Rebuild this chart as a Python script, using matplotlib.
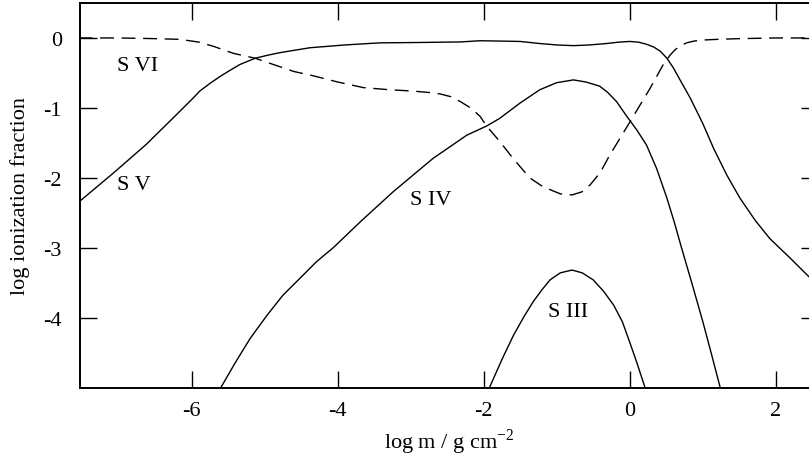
import matplotlib
matplotlib.use("Agg")
import matplotlib.pyplot as plt

# ionization fractions of sulfur (log m, log fraction)
s6_x = [-7.55, -7.0, -6.5, -6.16, -5.9, -5.70, -5.43, -5.13, -4.88, -4.60, -4.34, -4.0, -3.65,
        -3.3, -2.97, -2.75, -2.60, -2.45, -2.32, -2.18, -2.05, -1.96, -1.78, -1.60, -1.37,
        -1.2, -1.09, -0.95, -0.79, -0.65, -0.54, -0.40, -0.27, -0.1, 0.05, 0.28, 0.46, 0.55,
        0.62, 0.70, 0.78, 0.88, 1.0, 1.2, 1.5, 2.0, 2.7]
s6_y = [0.0, 0.0, -0.01, -0.02, -0.06, -0.12, -0.22, -0.29, -0.38, -0.48, -0.54, -0.63, -0.71,
        -0.74, -0.76, -0.78, -0.80, -0.84, -0.91, -1.0, -1.12, -1.26, -1.48, -1.72, -2.0,
        -2.12, -2.17, -2.23, -2.245, -2.2, -2.1, -1.92, -1.67, -1.38, -1.12, -0.72, -0.38, -0.25,
        -0.17, -0.11, -0.07, -0.045, -0.03, -0.02, -0.01, 0.0, 0.0]

s5_x = [-7.55, -7.07, -6.62, -6.25, -5.98, -5.89, -5.75, -5.61, -5.47, -5.34, -5.13, -4.95, -4.79,
        -4.38, -3.9, -3.42, -2.9, -2.32, -2.05, -1.75, -1.5, -1.23, -1.0, -0.77, -0.55, -0.32,
        -0.15, 0.0, 0.12, 0.23, 0.33, 0.42, 0.51, 0.6, 0.69, 0.83, 1.0, 1.15, 1.33, 1.51, 1.72,
        1.92, 2.2, 2.45, 2.7]
s5_y = [-2.35, -1.93, -1.52, -1.14, -0.86, -0.76, -0.65, -0.55, -0.46, -0.38, -0.29, -0.245, -0.21,
        -0.14, -0.10, -0.07, -0.065, -0.057, -0.04, -0.045, -0.05, -0.08, -0.10, -0.11, -0.10, -0.08,
        -0.06, -0.05, -0.06, -0.09, -0.13, -0.19, -0.29, -0.43, -0.60, -0.86, -1.22, -1.58, -1.96, -2.29,
        -2.61, -2.87, -3.15, -3.41, -3.62]

s4_x = [-5.60, -5.40, -5.20, -4.97, -4.75, -4.50, -4.29, -4.06, -3.69, -3.24, -2.69, -2.23, -1.96,
        -1.78, -1.50, -1.23, -1.0, -0.77, -0.60, -0.41, -0.30, -0.18, -0.04, 0.10, 0.23, 0.37,
        0.51, 0.61, 0.71, 0.85, 1.0, 1.12, 1.24]
s4_y = [-5.0, -4.64, -4.30, -3.97, -3.68, -3.42, -3.2, -3.0, -2.63, -2.20, -1.72, -1.39, -1.26,
        -1.15, -0.93, -0.74, -0.64, -0.60, -0.63, -0.69, -0.78, -0.91, -1.12, -1.32, -1.53, -1.87,
        -2.29, -2.63, -3.0, -3.5, -4.05, -4.52, -5.0]

s3_x = [-1.92, -1.75, -1.59, -1.45, -1.32, -1.2, -1.09, -0.95, -0.79, -0.65, -0.50, -0.36, -0.22,
        -0.1, 0.0, 0.1, 0.21]
s3_y = [-5.0, -4.6, -4.25, -3.99, -3.77, -3.60, -3.46, -3.36, -3.32, -3.36, -3.46, -3.62, -3.82,
        -4.06, -4.35, -4.65, -5.0]

x_ticks = [-6, -4, -2, 0, 2]
y_ticks = [0, -1, -2, -3, -4]

plt.rcParams['font.family'] = ['Liberation Serif', 'DejaVu Serif']

fig = plt.figure(figsize=(8.09, 4.56), dpi=100)
ax = fig.add_axes([80 / 809, (456 - 388.5) / 456, (818 - 80) / 809, (388.5 - 4) / 456])

ax.plot(s6_x, s6_y, color='black', lw=1.0, dashes=(10, 5.5))
ax.plot(s5_x, s5_y, color='black', lw=1.0)
ax.plot(s4_x, s4_y, color='black', lw=1.0)
ax.plot(s3_x, s3_y, color='black', lw=1.0)

fs = 16
ax.text(-7.02, -0.40, 'S VI', fontsize=fs, va='center', ha='left')
ax.text(-7.02, -2.09, 'S V', fontsize=fs, va='center', ha='left')
ax.text(-3.01, -2.31, 'S IV', fontsize=fs, va='center', ha='left')
ax.text(-1.12, -3.91, 'S III', fontsize=fs, va='center', ha='left')

ax.set_xlim(-7.53, 2.58)
ax.set_ylim(-5.0, 0.5)
ax.set_xticks(x_ticks)
ax.set_xticklabels([str(v) for v in x_ticks])
ax.set_yticks(y_ticks)
ax.set_yticklabels([str(v) for v in y_ticks])
ax.tick_params(direction='in', length=12, width=1.0, top=True, right=True,
               labelsize=fs, colors='black')
ax.tick_params(axis='x', pad=10)
ax.tick_params(axis='y', pad=13)
for sp in ax.spines.values():
    sp.set_linewidth(1.4)

ax.set_xlabel('log m / g cm$^{\\mathregular{-2}}$', fontsize=fs, labelpad=4)
ax.set_ylabel('log ionization fraction', fontsize=fs, labelpad=10)

fig.savefig('out.png', dpi=100)
